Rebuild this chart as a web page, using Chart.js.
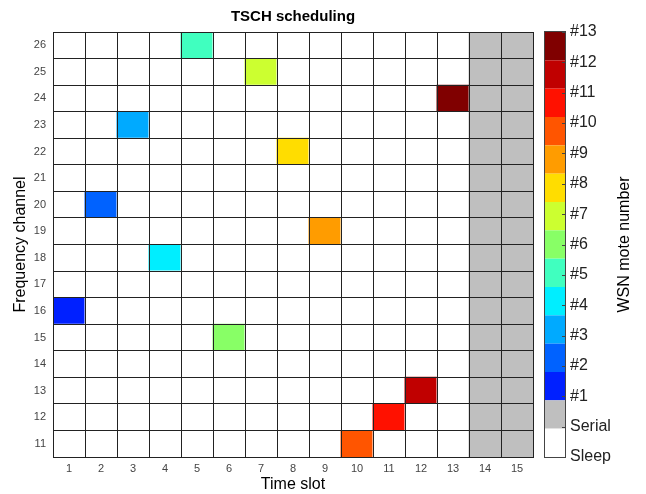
<!DOCTYPE html>
<html>
<head>
<meta charset="utf-8">
<script src="https://cdn.jsdelivr.net/npm/chart.js@4/dist/chart.umd.min.js"></script>
<style>
  body { margin: 0; background: #fff; }
  #wrap { position: relative; width: 646px; height: 494px; }
  #main { position: absolute; left: 0; top: 0; }
  #bar { position: absolute; left: 540px; top: 0; }
</style>
</head>
<body>
<div id="wrap">
  <canvas id="main" width="586" height="494"></canvas>
  <canvas id="bar" width="106" height="494"></canvas>
</div>
<script>
// schedule data
const timeSlots = ['1', '2', '3', '4', '5', '6', '7', '8', '9', '10', '11', '12', '13', '14', '15'];
const channels = [11, 12, 13, 14, 15, 16, 17, 18, 19, 20, 21, 22, 23, 24, 25, 26];
const moteSlots = [1, 2, 3, 4, 5, 6, 7, 8, 9, 10, 11, 12, 13];
const moteChannels = [16, 20, 23, 18, 26, 15, 25, 22, 19, 11, 12, 13, 24];
const serialSlots = [14, 15];

// colour scale: 0 = sleep, 1 = serial, 2.. = mote #1..#13
const stateLabels = ['Sleep', 'Serial', '#1', '#2', '#3', '#4', '#5', '#6', '#7', '#8', '#9', '#10', '#11', '#12', '#13'];
const stateColors = ['#ffffff', '#bfbfbf', '#0020ff', '#0062ff', '#00aaff', '#00eeff', '#40ffbf',
  '#88ff66', '#ccff30', '#ffdd00', '#ff9c00', '#ff5500', '#ff1100', '#c00000', '#800000'];

Chart.defaults.font.family = "'Liberation Sans', Arial, sans-serif";

function cellState(slot, ch) {
  if (serialSlots.includes(slot)) return 1;
  for (let i = 0; i < moteSlots.length; i++) {
    if (moteSlots[i] === slot && moteChannels[i] === ch) return i + 2;
  }
  return 0;
}

// one dataset per channel row, one floating bar per time slot
let rows = channels.map(ch => ({
  data: timeSlots.map(() => [ch - 0.5, ch + 0.5]),
  backgroundColor: timeSlots.map((s, i) => stateColors[cellState(i + 1, ch)]),
  borderWidth: 0,
  inflateAmount: 0.5,
  barPercentage: 1,
  categoryPercentage: 1,
  grouped: false
}));

// cell edges on the half channels
const rowEdges = channels.map(c => c - 0.5).concat([channels[channels.length - 1] + 0.5]);

new Chart(document.getElementById('main'), {
  type: 'bar',
  data: { labels: timeSlots, datasets: rows },
  options: {
    responsive: false,
    animation: false,
    layout: { padding: 0 },
    plugins: {
      legend: { display: false },
      tooltip: { enabled: false },
      title: {
        display: true,
        text: 'TSCH scheduling',
        color: '#000',
        font: { size: 15, weight: 'bold' },
        padding: { top: 8, bottom: 6 }
      }
    },
    scales: {
      x: {
        type: 'category',
        z: 1,
        grid: {
          display: true, drawTicks: false, lineWidth: 1, z: 1,
          color: ctx => ctx.index === timeSlots.length ? '#8a8a8a' : '#222'
        },
        border: { display: true, color: '#222', width: 1, z: 1 },
        ticks: { color: '#444', font: { size: 11 }, padding: 5 },
        title: { display: true, text: 'Time slot', color: '#000', font: { size: 16 }, padding: { top: 0, bottom: 0 } },
        afterFit: function (scale) { scale.height = 37; }
      },
      y: {
        type: 'linear',
        min: 10.5,
        max: 26.5,
        z: 1,
        afterBuildTicks: function (scale) { scale.ticks = channels.map(v => ({ value: v })); },
        grid: { display: false, drawTicks: false, z: 1 },
        border: { display: true, color: '#222', width: 1, z: 1 },
        ticks: { color: '#444', font: { size: 11 }, padding: 7 },
        title: { display: true, text: 'Frequency channel', color: '#000', font: { size: 16 }, padding: { top: 11, bottom: 0 } },
        afterFit: function (scale) { scale.width = 53; }
      },
      yEdge: {
        type: 'linear',
        position: 'right',
        min: 10.5,
        max: 26.5,
        z: 1,
        afterBuildTicks: function (scale) { scale.ticks = rowEdges.map(v => ({ value: v })); },
        grid: { display: true, drawTicks: false, color: '#222', lineWidth: 1, z: 1 },
        border: { display: false },
        ticks: { display: false },
        afterFit: function (scale) { scale.width = 53; }
      }
    }
  }
});

// colour bar
const segs = stateLabels.map((lab, i) => ({
  data: [[i * 14 / 15, (i + 1) * 14 / 15]],
  backgroundColor: stateColors[i],
  borderWidth: 0,
  inflateAmount: 0,
  barPercentage: 1,
  categoryPercentage: 1,
  grouped: false
}));

const barFrame = {
  id: 'barFrame',
  afterDatasetsDraw(chart) {
    const ctx = chart.ctx;
    const a = chart.chartArea;
    const y = chart.scales.y;
    ctx.save();
    ctx.strokeStyle = '#444';
    ctx.lineWidth = 1;
    ctx.strokeRect(Math.round(a.left) - 0.5, Math.round(a.top) - 0.5, a.right - a.left + 1, a.bottom - a.top + 1);
    ctx.beginPath();
    for (let v = 0; v <= 14; v++) {
      const py = Math.round(y.getPixelForValue(v)) + 0.5;
      ctx.moveTo(a.right - 3, py);
      ctx.lineTo(a.right, py);
    }
    ctx.stroke();
    // axis title reads bottom to top
    ctx.translate(85, (a.top + a.bottom) / 2);
    ctx.rotate(-Math.PI / 2);
    ctx.fillStyle = '#000';
    ctx.font = "16px 'Liberation Sans', Arial, sans-serif";
    ctx.textAlign = 'center';
    ctx.textBaseline = 'middle';
    ctx.fillText('WSN mote number', 0, 0);
    ctx.restore();
  }
};

new Chart(document.getElementById('bar'), {
  type: 'bar',
  data: { labels: [''], datasets: segs },
  options: {
    responsive: false,
    animation: false,
    layout: { padding: { left: 5, right: 0, top: 32, bottom: 37 } },
    plugins: { legend: { display: false }, tooltip: { enabled: false } },
    scales: {
      x: { type: 'category', display: false },
      y: {
        type: 'linear',
        position: 'right',
        min: 0,
        max: 14,
        ticks: {
          stepSize: 1,
          color: '#222',
          font: { size: 16 },
          padding: 5,
          callback: function (v) { return stateLabels[v]; }
        },
        grid: { display: false, drawTicks: false },
        border: { display: false },
        afterFit: function (scale) { scale.width = 81; }
      }
    }
  },
  plugins: [barFrame]
});
</script>
</body>
</html>
